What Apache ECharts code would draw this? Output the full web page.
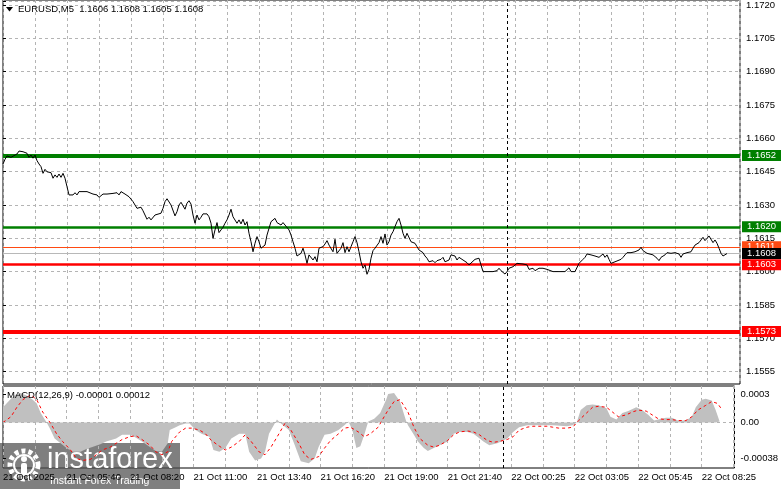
<!DOCTYPE html>
<html><head><meta charset="utf-8">
<script src="https://cdn.jsdelivr.net/npm/echarts@6/dist/echarts.min.js"></script>
<style>html,body{margin:0;padding:0;background:#fff}#c{width:781px;height:489px}</style>
</head><body><div id="c"></div>
<script>
// ---- DATA ----
// bar number = 5-minute bars since 21 Oct 03:00
const timeLabels = ['21 Oct 2025','21 Oct 05:40','21 Oct 08:20','21 Oct 11:00','21 Oct 13:40','21 Oct 16:20',
  '21 Oct 19:00','21 Oct 21:40','22 Oct 00:25','22 Oct 03:05','22 Oct 05:45','22 Oct 08:25'];
const daySeparatorBar = 252;
const priceBars = [0,1,2,3,4,5,7,8,9,10,11,12,13,14,15,16,17,18,19,20,21,22,23,24,25,26,27,28,29,30,31,32,33,34,35,36,37,38,39,40,
  41,42,43,45,46,47,48,50,51,52,53,55,56,57,58,59,61,62,63,64,65,66,67,68,69,70,72,73,74,75,76,77,79,80,81,82,83,84,86,87,
  88,89,91,92,93,94,95,96,97,98,99,100,102,103,104,105,106,107,108,109,110,111,112,113,114,115,116,117,118,119,120,121,122,123,124,125,126,127,128,129,
  130,131,132,133,134,135,136,137,138,139,140,141,142,143,144,145,146,147,148,149,150,151,152,153,154,155,156,157,158,159,160,161,162,163,164,165,166,167,168,169,
  170,171,172,173,174,175,176,177,178,179,180,181,182,183,184,185,186,187,188,189,190,191,192,193,194,195,196,197,198,199,200,201,202,203,204,205,206,207,208,209,
  210,211,212,213,214,215,216,217,218,219,220,221,222,223,224,225,226,227,228,229,230,231,232,233,234,236,237,238,239,240,242,243,245,247,248,249,250,251,252,253,
  254,255,256,257,258,260,261,262,263,264,265,266,268,269,270,271,272,273,275,276,278,279,281,282,283,284,286,287,288,289,290,291,292,293,294,296,297,298,299,300,
  301,302,303,304,305,306,307,309,310,311,312,314,315,316,317,318,319,320,321,322,323,325,326,327,328,329,331,332,333,334,335,336,338,339,340,341,342,343,344,345,
  346,348,349,350,351,352,353,354,355,356,357,358,359,360,361,362];
const closePrices = [1.16482,1.16503,1.16518,1.16522,1.16512,1.16515,1.16527,1.16540,1.16545,1.16537,1.16545,1.16530,1.16512,1.16522,1.16508,1.16522,1.16497,1.16482,1.16470,1.16440,
  1.16458,1.16447,1.16452,1.16443,1.16418,1.16433,1.16422,1.16437,1.16422,1.16440,1.16418,1.16380,1.16343,1.16350,1.16343,1.16353,1.16343,1.16358,1.16350,1.16358,
  1.16350,1.16358,1.16353,1.16347,1.16353,1.16343,1.16332,1.16347,1.16343,1.16347,1.16343,1.16350,1.16343,1.16353,1.16343,1.16358,1.16347,1.16353,1.16335,1.16328,
  1.16313,1.16308,1.16283,1.16283,1.16288,1.16272,1.16234,1.16243,1.16231,1.16234,1.16253,1.16258,1.16261,1.16283,1.16313,1.16326,1.16326,1.16298,1.16249,1.16268,
  1.16298,1.16310,1.16279,1.16306,1.16317,1.16302,1.16253,1.16216,1.16253,1.16231,1.16243,1.16258,1.16258,1.16245,1.16216,1.16148,1.16186,1.16219,1.16174,1.16186,
  1.16198,1.16216,1.16231,1.16253,1.16279,1.16245,1.16253,1.16216,1.16231,1.16213,1.16234,1.16208,1.16223,1.16171,1.16133,1.16088,1.16126,1.16156,1.16133,1.16104,
  1.16099,1.16118,1.16163,1.16193,1.16223,1.16227,1.16238,1.16219,1.16227,1.16208,1.16219,1.16208,1.16204,1.16186,1.16163,1.16133,1.16104,1.16069,1.16074,1.16081,
  1.16104,1.16074,1.16036,1.16074,1.16066,1.16051,1.16066,1.16043,1.16104,1.16104,1.16111,1.16123,1.16138,1.16118,1.16111,1.16088,1.16144,1.16081,1.16078,1.16104,
  1.16129,1.16084,1.16111,1.16088,1.16111,1.16133,1.16156,1.16129,1.16088,1.16043,1.16014,1.16029,1.15987,1.16009,1.16059,1.16093,1.16104,1.16104,1.16129,1.16156,
  1.16126,1.16168,1.16118,1.16133,1.16163,1.16178,1.16201,1.16223,1.16238,1.16208,1.16171,1.16148,1.16171,1.16163,1.16133,1.16126,1.16126,1.16111,1.16096,1.16088,
  1.16084,1.16069,1.16059,1.16043,1.16043,1.16048,1.16039,1.16048,1.16043,1.16054,1.16063,1.16043,1.16051,1.16051,1.16074,1.16069,1.16069,1.16051,1.16063,1.16069,
  1.16051,1.16054,1.16039,1.16029,1.16036,1.16054,1.16054,1.16059,1.16029,1.15999,1.15999,1.15999,1.15999,1.16003,1.16014,1.16003,1.16003,1.15988,1.15999,1.16014,
  1.16006,1.16021,1.16014,1.16036,1.16033,1.16033,1.16033,1.16029,1.16009,1.16006,1.16014,1.16003,1.16014,1.16021,1.16014,1.16021,1.16009,1.16003,1.15999,1.16003,
  1.15999,1.16003,1.15999,1.16006,1.16016,1.15999,1.15999,1.16006,1.16036,1.16036,1.16054,1.16063,1.16078,1.16074,1.16074,1.16069,1.16074,1.16063,1.16059,1.16078,
  1.16063,1.16074,1.16054,1.16036,1.16036,1.16043,1.16051,1.16054,1.16063,1.16074,1.16084,1.16084,1.16081,1.16088,1.16084,1.16096,1.16108,1.16093,1.16088,1.16081,
  1.16074,1.16074,1.16069,1.16059,1.16048,1.16063,1.16074,1.16084,1.16078,1.16081,1.16074,1.16084,1.16078,1.16063,1.16078,1.16081,1.16084,1.16084,1.16088,1.16104,
  1.16118,1.16129,1.16141,1.16153,1.16138,1.16148,1.16159,1.16156,1.16129,1.16141,1.16126,1.16104,1.16081,1.16069,1.16074,1.16080];
const levelPrices = [1.1652, 1.1620, 1.1611, 1.1608, 1.1603, 1.1573];
const priceLabelFirst = 1.1555, priceLabelStep = 0.0015;
const histBars = [0,4,6,9,12,15,17,19,22,24,26,29,32,35,39,42,45,49,52,57,60,64,67,70,74,77,80,83,84,87,89,92,94,97,100,104,106,109,112,115,
  119,122,124,127,130,132,134,138,140,144,147,150,154,157,159,162,165,169,172,174,176,178,180,182,184,187,190,193,194,197,200,203,204,207,209,212,214,217,220,224,
  227,230,234,237,239,242,245,249,251,254,257,260,264,270,277,284,287,289,291,294,297,300,304,306,309,312,315,319,322,325,328,330,334,337,340,344,347,349,352,354,
  357,359,361,362];
const histValues = [0.00016,0.00025,0.00029,0.00031,0.00028,0.00024,0.00020,0.00010,0.00000,-0.00008,-0.00017,-0.00022,-0.00027,-0.00031,-0.00031,-0.00028,-0.00026,-0.00023,-0.00020,-0.00017,
  -0.00013,-0.00013,-0.00016,-0.00020,-0.00026,-0.00030,-0.00031,-0.00022,-0.00008,-0.00005,-0.00003,-0.00001,-0.00001,-0.00008,-0.00012,-0.00015,-0.00029,-0.00031,-0.00027,-0.00017,
  -0.00012,-0.00012,-0.00031,-0.00040,-0.00038,-0.00031,-0.00012,0.00003,-0.00001,-0.00008,-0.00024,-0.00041,-0.00043,-0.00038,-0.00026,-0.00013,-0.00012,-0.00008,-0.00003,0.00001,
  -0.00008,-0.00027,-0.00025,-0.00013,0.00001,0.00004,0.00010,0.00024,0.00030,0.00031,0.00022,0.00002,-0.00003,-0.00013,-0.00020,-0.00027,-0.00030,-0.00027,-0.00024,-0.00020,
  -0.00012,-0.00010,-0.00010,-0.00012,-0.00015,-0.00020,-0.00024,-0.00022,-0.00020,-0.00017,-0.00010,-0.00005,-0.00003,-0.00003,-0.00003,-0.00004,-0.00003,0.00000,0.00013,0.00018,
  0.00019,0.00018,0.00015,0.00006,0.00003,0.00010,0.00012,0.00016,0.00013,0.00008,0.00002,0.00003,0.00005,0.00005,0.00002,0.00002,0.00006,0.00016,0.00024,0.00025,
  0.00023,0.00013,0.00001,-0.00001];
const signalBars = [0,4,7,10,14,17,20,24,27,30,34,37,40,44,47,50,54,57,60,64,67,70,74,77,80,83,85,89,92,95,99,102,105,109,112,115,119,122,125,129,
  132,135,139,142,145,149,152,155,159,162,165,169,172,175,179,182,185,189,192,194,197,200,204,207,210,214,217,220,224,227,230,234,237,240,244,247,250,254,257,260,
  264,267,274,277,280,284,287,290,294,297,300,304,307,310,314,317,320,324,327,330,334,337,340,344,347,350,354,357,360,362];
const signalValues = [0.00000,0.00006,0.00016,0.00024,0.00029,0.00024,0.00011,-0.00001,-0.00012,-0.00020,-0.00029,-0.00038,-0.00040,-0.00039,-0.00034,-0.00029,-0.00026,-0.00022,-0.00018,-0.00015,
  -0.00014,-0.00018,-0.00024,-0.00031,-0.00034,-0.00031,-0.00020,-0.00010,-0.00006,-0.00006,-0.00008,-0.00012,-0.00019,-0.00025,-0.00029,-0.00026,-0.00020,-0.00013,-0.00020,-0.00031,
  -0.00034,-0.00026,-0.00012,-0.00001,-0.00008,-0.00022,-0.00034,-0.00039,-0.00036,-0.00027,-0.00019,-0.00012,-0.00006,-0.00005,-0.00010,-0.00015,-0.00012,-0.00005,0.00006,0.00013,
  0.00022,0.00024,0.00011,-0.00005,-0.00017,-0.00024,-0.00026,-0.00024,-0.00019,-0.00013,-0.00010,-0.00009,-0.00010,-0.00013,-0.00019,-0.00021,-0.00020,-0.00018,-0.00015,-0.00008,
  -0.00005,-0.00004,-0.00004,-0.00005,-0.00006,-0.00006,-0.00005,0.00002,0.00010,0.00016,0.00017,0.00016,0.00011,0.00006,0.00008,0.00011,0.00013,0.00012,0.00008,0.00004,
  0.00003,0.00003,0.00002,0.00002,0.00006,0.00013,0.00018,0.00022,0.00020,0.00014];
const macdTickValues = [-0.00038, 0, 0.0003];
const macdTickLabels = ['-0.00038', '0.00', '0.0003'];
const headerText = 'EURUSD,M5  1.1606 1.1608 1.1605 1.1608';
const macdText = 'MACD(12,26,9) -0.00001 0.00012';

// ---- STYLE ----
const FONT = 'Liberation Sans';
const FS = 9.5;
const levelStyles = [
  {color:'#007f00', width:4, box:'#007f00'},
  {color:'#007f00', width:2.5, box:'#007f00'},
  {color:'#ff4a12', width:1, box:'#ff4a12'},
  {color:'#b8b8b8', width:1, box:'#000000'},
  {color:'#ff0000', width:2.5, box:'#ff0000'},
  {color:'#ff0000', width:4, box:'#ff0000'}
];
const gridDash = {color:'#b4b4b4', type:[3,3], width:1};
const XMAX = 368.5;

const chart = echarts.init(document.getElementById('c'), null, {renderer:'canvas'});
const zip = (a,b) => a.map((v,i)=>[v,b[i]]);
const daySep = {xAxis: daySeparatorBar, lineStyle:{color:'#000', type:[3,3], width:1}, label:{show:false}};

const option = {
  animation:false,
  textStyle:{fontFamily:FONT, fontSize:FS, color:'#000'},
  grid:[
    {left:3, top:0, width:737, height:384, show:true, borderColor:'#000', borderWidth:1, backgroundColor:'transparent'},
    {left:3, top:0, width:737, height:(1.17218-priceLabelFirst)*22280, show:false},
    {left:3, top:386, width:737, height:82, show:true, borderColor:'#000', borderWidth:1, backgroundColor:'transparent'}
  ],
  xAxis:[
    {gridIndex:0, type:'value', min:0, max:XMAX, interval:16, axisLine:{show:false}, axisTick:{show:false}, axisLabel:{show:false}, splitLine:{show:true, lineStyle:gridDash}},
    {gridIndex:1, type:'value', min:0, max:1, show:false},
    {gridIndex:2, type:'value', min:0, max:XMAX, interval:16, axisLine:{show:false}, axisTick:{show:false},
     axisLabel:{show:true, align:'left', margin:4, fontFamily:FONT, fontSize:FS, color:'#000',
       formatter:v => (Math.abs(v % 32) < 1e-6 && timeLabels[Math.round(v/32)]) ? timeLabels[Math.round(v/32)] : ''},
     splitLine:{show:true, lineStyle:gridDash}}
  ],
  yAxis:[
    {gridIndex:0, type:'value', min:1.154945, max:1.17218, show:false},
    {gridIndex:1, type:'value', position:'right', min:priceLabelFirst, max:1.17218, interval:priceLabelStep,
     axisLine:{show:false}, axisTick:{show:true, length:3, lineStyle:{color:'#000'}},
     axisLabel:{margin:6, fontFamily:FONT, fontSize:FS, color:'#000', formatter:v => {
        const k = (v - priceLabelFirst)/priceLabelStep; return Math.abs(k-Math.round(k))<0.01 ? v.toFixed(4) : '';}},
     splitLine:{show:true, lineStyle:gridDash}},
    {gridIndex:2, type:'value', position:'right', min:-0.00048, max:0.000384,
     axisLine:{show:false}, splitLine:{show:false},
     axisTick:{show:true, length:3, lineStyle:{color:'#000'}, customValues:macdTickValues},
     axisLabel:{margin:6, fontFamily:FONT, fontSize:FS, color:'#000', customValues:macdTickValues,
       formatter:v => { const i = macdTickValues.findIndex(t=>Math.abs(t-v)<1e-9); return i>=0 ? macdTickLabels[i] : ''; }}}
  ],
  series:[
    {type:'line', xAxisIndex:0, yAxisIndex:0, data:zip(priceBars, closePrices), showSymbol:false, symbol:'none',
     lineStyle:{color:'#000', width:1}, z:5,
     markLine:{silent:true, symbol:['none','none'], precision:4,
       data: levelPrices.map((p,i)=>({yAxis:p, lineStyle:{color:levelStyles[i].color, width:levelStyles[i].width, type:'solid'},
         label:{show:true, position:'end', distance:2, formatter:p.toFixed(4), color:'#fff', backgroundColor:levelStyles[i].box,
           padding:[1,12,0,5], fontFamily:FONT, fontSize:FS}})).concat([daySep])}},
    {type:'line', xAxisIndex:2, yAxisIndex:2, data:zip(histBars, histValues), showSymbol:false, symbol:'none',
     lineStyle:{width:0, color:'#c0c0c0'}, areaStyle:{color:'#c0c0c0', opacity:1}, z:3,
     markLine:{silent:true, symbol:['none','none'],
       data:[{yAxis:0, lineStyle:{color:'#b4b4b4', type:[3,3], width:1}, label:{show:false}}, daySep]}},
    {type:'line', xAxisIndex:2, yAxisIndex:2, data:zip(signalBars, signalValues), showSymbol:false, symbol:'none',
     lineStyle:{color:'#ff0000', width:1, type:[3,3]}, z:4}
  ],
  graphic:[
    {type:'polygon', shape:{points:[[6,7],[13,7],[9.5,11.5]]}, style:{fill:'#000'}, z:20},
    {type:'text', left:18, top:4, style:{text:headerText, fontFamily:FONT, fontSize:FS, fill:'#000'}, z:20},
    {type:'text', left:7, top:390, style:{text:macdText, fontFamily:FONT, fontSize:FS, fill:'#000'}, z:20},
    {type:'group', left:0, top:443, z:50, children:[
      {type:'rect', shape:{x:0, y:0, width:180, height:46}, style:{fill:'rgba(78,78,78,0.72)'}},
      {type:'circle', shape:{cx:24, cy:22, r:14}, style:{fill:'none', stroke:'#fff', lineWidth:5, lineDash:[4,3]}},
      {type:'circle', shape:{cx:24, cy:22, r:10}, style:{fill:'none', stroke:'#fff', lineWidth:2}},
      {type:'circle', shape:{cx:24, cy:16, r:3}, style:{fill:'#fff'}},
      {type:'rect', shape:{x:21, y:20, width:6, height:12, r:2}, style:{fill:'#fff'}},
      {type:'text', x:47, y:2, style:{text:'instaforex', fontFamily:FONT, fontSize:29, fill:'#fff'}},
      {type:'text', x:50, y:33, style:{text:'Instant Forex Trading', fontFamily:FONT, fontSize:10.5, fill:'#fff'}}
    ]}
  ]
};
chart.setOption(option);
</script></body></html>
